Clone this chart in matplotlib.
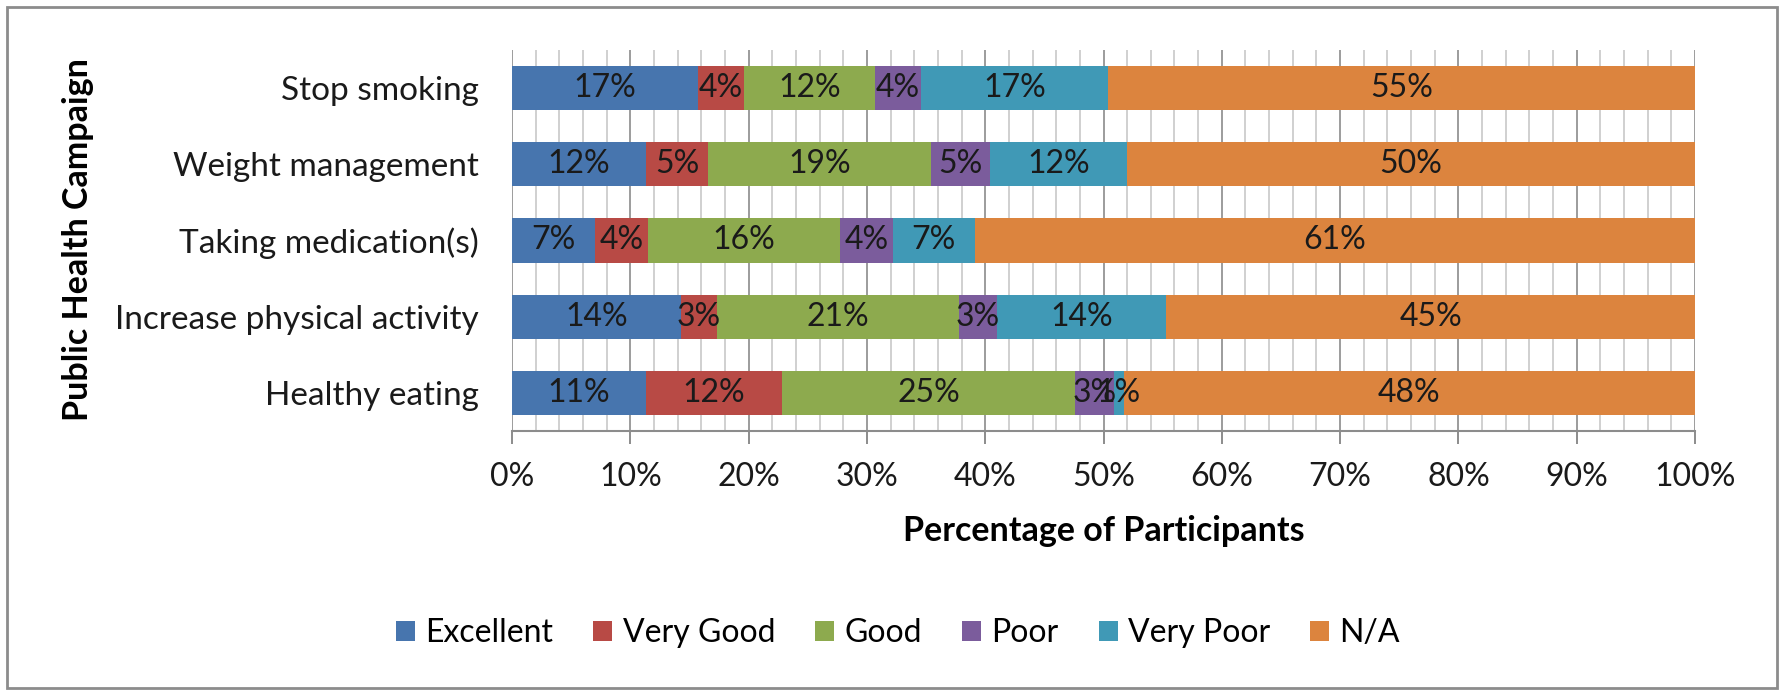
import matplotlib
matplotlib.use("Agg")
import matplotlib.pyplot as plt
from matplotlib.patches import Rectangle
from matplotlib.ticker import MultipleLocator, PercentFormatter
import numpy as np

plt.rcParams['font.family'] = ['Lato', 'DejaVu Sans']

# Data (top bar first)
campaigns = ["Stop smoking", "Weight management", "Taking medication(s)",
             "Increase physical activity", "Healthy eating"]
ratings = ["Excellent", "Very Good", "Good", "Poor", "Very Poor", "N/A"]

# segment widths as drawn (share of the 100% bar)
excellent = [15.7, 11.3, 7.0, 14.3, 11.3]
very_good = [3.9, 5.3, 4.5, 3.0, 11.5]
good = [11.1, 18.8, 16.2, 20.5, 24.8]
poor = [3.9, 5.0, 4.5, 3.2, 3.3]
very_poor = [15.8, 11.6, 6.9, 14.3, 0.8]
not_applicable = [49.6, 48.0, 60.9, 44.7, 48.3]

# data labels printed on the segments
lab_excellent = [17, 12, 7, 14, 11]
lab_very_good = [4, 5, 4, 3, 12]
lab_good = [12, 19, 16, 21, 25]
lab_poor = [4, 5, 4, 3, 3]
lab_very_poor = [17, 12, 7, 14, 1]
lab_na = [55, 50, 61, 45, 48]

colors = ["#4775AE", "#B84A45", "#8DAA4E", "#7B5C9C", "#4099B6", "#DC843E"]

series = [excellent, very_good, good, poor, very_poor, not_applicable]
labels = [lab_excellent, lab_very_good, lab_good, lab_poor, lab_very_poor, lab_na]

fig = plt.figure(figsize=(17.84, 6.97), dpi=100)
ax = fig.add_axes([512 / 1784, 1 - 431 / 697, 1183 / 1784, 381 / 697])

y = np.arange(len(campaigns))[::-1]
left = np.zeros(len(campaigns))
for name, vals, labs, col in zip(ratings, series, labels, colors):
    vals = np.array(vals)
    bars = ax.barh(y, vals, left=left, height=0.58, color=col, label=name, zorder=3)
    ax.bar_label(bars, labels=[f"{v}%" for v in labs], label_type="center",
                 fontsize=23, color="#1a1a1a", zorder=4)
    left += vals

ax.set_xlim(0, 100)
ax.set_ylim(-0.5, len(campaigns) - 0.5)
ax.xaxis.set_major_locator(MultipleLocator(10))
ax.xaxis.set_minor_locator(MultipleLocator(2))
ax.xaxis.set_major_formatter(PercentFormatter(decimals=0))
ax.grid(axis="x", which="minor", color="#D0D0D0", linewidth=1.4, zorder=0)
ax.grid(axis="x", which="major", color="#9C9C9C", linewidth=1.4, zorder=0)

ax.set_yticks(y)
ax.set_yticklabels(campaigns, fontsize=24, color="#1a1a1a")
ax.tick_params(axis="y", length=0, pad=24)
ax.tick_params(axis="x", which="major", length=9, width=1.4, color="#8C8C8C",
               labelsize=23, labelcolor="#1a1a1a", pad=13)
ax.tick_params(axis="x", which="minor", length=0)

for side in ["top", "left", "right"]:
    ax.spines[side].set_visible(False)
ax.spines["bottom"].set_color("#8C8C8C")
ax.spines["bottom"].set_linewidth(1.5)

ax.set_xlabel("Percentage of Participants", fontsize=24.5, fontweight="bold",
              labelpad=17)
fig.text(78 / 1784, 1 - 240 / 697, "Public Health Campaign", rotation=90,
         fontsize=24.5, fontweight="bold", ha="center", va="center")

fig.legend(loc="center", bbox_to_anchor=(898 / 1784, 1 - 633 / 697), ncol=6,
           frameon=False, fontsize=23, handlelength=0.6, handleheight=0.6,
           handletextpad=0.32, columnspacing=1.25)

# chart border
fig.add_artist(Rectangle((7 / 1784, 9 / 697), 1770 / 1784, 681 / 697,
                         transform=fig.transFigure, fill=False,
                         edgecolor="#8C8C8C", linewidth=2))

fig.savefig("out.png", dpi=100)
